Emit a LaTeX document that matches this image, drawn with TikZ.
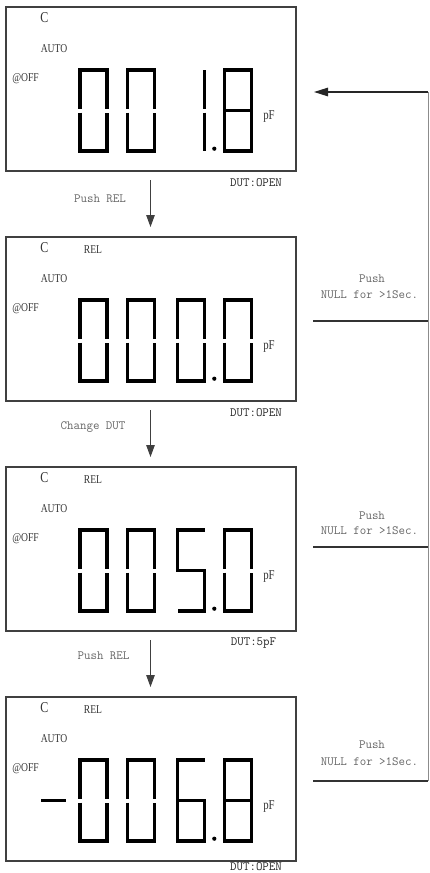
\documentclass[tikz,border=0pt]{standalone}
\usepackage{fontspec}
\newfontfamily\lcdfont[FakeStretch=0.8]{Liberation Serif}
\usetikzlibrary{arrows.meta}
% digit helpers: #1 = left x of digit, #2 = panel top y
\newcommand\dgZero[2]{%
  \draw[seg] (#1,#2+101.5) -- (#1,#2+63) -- (#1+27,#2+63) -- (#1+27,#2+101.5);
  \draw[seg] (#1,#2+105.5) -- (#1,#2+144) -- (#1+27,#2+144) -- (#1+27,#2+105.5);}
\newcommand\dgOne[2]{%
  \draw[seg] (#1+27,#2+63) -- (#1+27,#2+101.5);
  \draw[seg] (#1+27,#2+105.5) -- (#1+27,#2+144);}
\newcommand\dgEight[2]{%
  \draw[seg] (#1,#2+63) rectangle (#1+27,#2+144);
  \draw[seg] (#1,#2+103.5) -- (#1+27,#2+103.5);}
\newcommand\dgFive[2]{%
  \draw[seg] (#1+27,#2+63) -- (#1,#2+63) -- (#1,#2+103.5) -- (#1+27,#2+103.5) -- (#1+27,#2+144) -- (#1,#2+144);}
\newcommand\dgSix[2]{%
  \draw[seg] (#1+27,#2+63) -- (#1,#2+63) -- (#1,#2+144) -- (#1+27,#2+144) -- (#1+27,#2+103.5) -- (#1,#2+103.5);}
\newcommand\dgDot[1]{%
  \fill[black] (214.3,#1+141.7) circle[radius=2.1];}
% common panel: #1 = name suffix, #2 = top y
\newcommand\lcdpanel[2]{%
  \node[lcdbox] (box#1) at (151,#2+82) {};
  \node[lcdtxt, font=\lcdfont\fontsize{15}{15}\selectfont] (c#1) at (44.5,#2+11) {C};
  \node[lcdtxt] (auto#1) at (54,#2+42) {AUTO};
  \node[lcdtxt] (off#1) at (25.5,#2+71.5) {@OFF};
  \node[lcdtxt, font=\lcdfont\fontsize{13.5}{14}\selectfont, xscale=1] (pf#1) at (269,#2+110) {pF};}
\begin{document}
\begin{tikzpicture}[x=1pt,y=-1pt,
  seg/.style={line width=3.2pt, line join=miter, line cap=butt, black},
  lcdbox/.style={draw=black!75, line width=1.1pt, minimum width=290pt, minimum height=164pt, inner sep=0pt, outer sep=0pt},
  lcdtxt/.style={inner sep=0pt, text=black!80, font=\lcdfont\fontsize{12}{13}\selectfont},
  mono/.style={inner sep=0pt, font=\ttfamily\fontsize{12.6}{14}\selectfont},
  steplbl/.style={mono, text=black!60},
  duttxt/.style={mono, text=black!85},
  flowarrow/.style={draw=black!75, line width=1.1pt, -{Triangle[length=12pt,width=8.5pt]}},
  loopline/.style={draw=black!45, line width=0.9pt},
  tapline/.style={draw=black!80, line width=1.7pt}]
\useasboundingbox (0,0) rectangle (429,873);

% ---- panel 1 ----
\lcdpanel{1}{7}
\dgZero{80}{7}\dgZero{127.5}{7}\dgOne{177.5}{7}\dgEight{224.5}{7}\dgDot{7}
\node[duttxt] (dut1) at (256,183) {DUT:OPEN};

% ---- panel 2 ----
\lcdpanel{2}{237}
\node[lcdtxt] (rel2) at (93,250) {REL};
\dgZero{80}{237}\dgZero{127.5}{237}\dgZero{177.5}{237}\dgZero{224.5}{237}\dgDot{237}
\node[duttxt] (dut2) at (256,413) {DUT:OPEN};

% ---- panel 3 ----
\lcdpanel{3}{467}
\node[lcdtxt] (rel3) at (93,480) {REL};
\dgZero{80}{467}\dgZero{127.5}{467}\dgFive{177.5}{467}\dgZero{224.5}{467}\dgDot{467}
\node[duttxt] (dut3) at (253.5,643) {DUT:5pF};

% ---- panel 4 ----
\lcdpanel{4}{697}
\node[lcdtxt] (rel4) at (93,710) {REL};
\draw[seg] (41,800.5) -- (66,800.5);
\dgZero{80}{697}\dgZero{127.5}{697}\dgSix{177.5}{697}\dgEight{224.5}{697}\dgDot{697}
\node[duttxt] (dut4) at (256,867) {DUT:OPEN};

% ---- downward steps ----
\coordinate (a1s) at (150.5,180); \coordinate (a1e) at (150.5,227);
\coordinate (a2s) at (150.5,410); \coordinate (a2e) at (150.5,457);
\coordinate (a3s) at (150.5,640); \coordinate (a3e) at (150.5,687);
\draw[flowarrow] (a1s) -- (a1e);
\draw[flowarrow] (a2s) -- (a2e);
\draw[flowarrow] (a3s) -- (a3e);
\node[steplbl] (s1) at (100,199) {Push REL};
\node[steplbl] (s2) at (93,427) {Change DUT};
\node[steplbl] (s3) at (103.5,656) {Push REL};

% ---- NULL loop on the right ----
\coordinate (rtop) at (428,92);
\coordinate (rtip) at (314,92);
\coordinate (r1) at (428,321); \coordinate (h1) at (313,321);
\coordinate (r2) at (428,547); \coordinate (h2) at (313,547);
\coordinate (r3) at (428,781); \coordinate (h3) at (313,781);
\draw[loopline] (rtop) -- (r3);
\draw[draw=black!85, line width=1.3pt, -{Triangle[length=14pt,width=8.5pt]}] (rtop) -- (rtip);
\draw[tapline] (h1) -- (r1);
\draw[tapline] (h2) -- (r2);
\draw[tapline] (h3) -- (r3);
\node[steplbl] (p1) at (372,279) {Push};
\node[steplbl] (n1) at (369.5,295) {NULL for >1Sec.};
\node[steplbl] (p2) at (372,516) {Push};
\node[steplbl] (n2) at (369.5,531) {NULL for >1Sec.};
\node[steplbl] (p3) at (372,745) {Push};
\node[steplbl] (n3) at (369.5,762) {NULL for >1Sec.};
\end{tikzpicture}
\end{document}
